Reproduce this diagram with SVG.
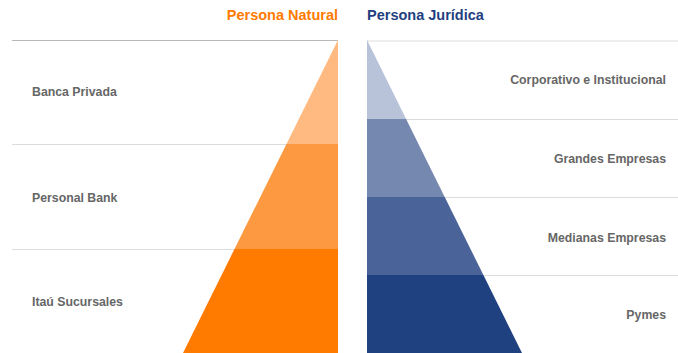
<svg xmlns="http://www.w3.org/2000/svg" width="678" height="353" viewBox="0 0 678 353">
<style>
.title{font-family:"Liberation Sans",Arial,sans-serif;font-weight:bold;font-size:14.5px}
.lbl{font-family:"Liberation Sans",Arial,sans-serif;font-weight:bold;font-size:12.3px;fill:#666666}
.grid{stroke:#dcdcdc;stroke-width:1;fill:none}
</style>
<rect width="678" height="353" fill="#ffffff"/>
<g id="connectors">
<line x1="12" y1="40.5" x2="338" y2="40.5" stroke="#b8b8b8" stroke-width="1"/>
<line class="grid" x1="12" y1="144.5" x2="338" y2="144.5"/>
<line class="grid" x1="12" y1="249.5" x2="338" y2="249.5"/>
<line x1="367" y1="41" x2="678" y2="41" stroke="#eeeeee" stroke-width="2"/>
<line class="grid" x1="367" y1="119.5" x2="678" y2="119.5"/>
<line class="grid" x1="367" y1="197.5" x2="678" y2="197.5"/>
<line class="grid" x1="367" y1="275.5" x2="678" y2="275.5"/>
</g>
<g id="title-natural"><text class="title" x="338" y="20" text-anchor="end" fill="#FF7B00">Persona Natural</text></g>
<g id="title-juridica"><text class="title" x="367" y="20" fill="#1F3F7F">Persona Jurídica</text></g>
<g id="banca-privada">
<polygon points="338,40 338,144 286.5,144" fill="#FEBA80"/>
<text class="lbl" x="32" y="96">Banca Privada</text>
</g>
<g id="personal-bank">
<polygon points="286.5,144 338,144 338,249 234.5,249" fill="#FD9940"/>
<text class="lbl" x="32" y="202">Personal Bank</text>
</g>
<g id="itau-sucursales">
<polygon points="234.5,249 338,249 338,353 183,353" fill="#FF7B00"/>
<text class="lbl" x="32" y="306">Itaú Sucursales</text>
</g>
<g id="corporativo">
<polygon points="367,40 406.1,119 367,119" fill="#B8C3D9"/>
<text class="lbl" x="666" y="84" text-anchor="end">Corporativo e Institucional</text>
</g>
<g id="grandes">
<polygon points="367,119 406.1,119 444.7,197 367,197" fill="#7589B0"/>
<text class="lbl" x="666" y="163" text-anchor="end">Grandes Empresas</text>
</g>
<g id="medianas">
<polygon points="367,197 444.7,197 483.4,275 367,275" fill="#4A6399"/>
<text class="lbl" x="666" y="242" text-anchor="end">Medianas Empresas</text>
</g>
<g id="pymes">
<polygon points="367,275 483.4,275 522,353 367,353" fill="#1F4180"/>
<text class="lbl" x="666" y="319" text-anchor="end">Pymes</text>
</g>
</svg>
